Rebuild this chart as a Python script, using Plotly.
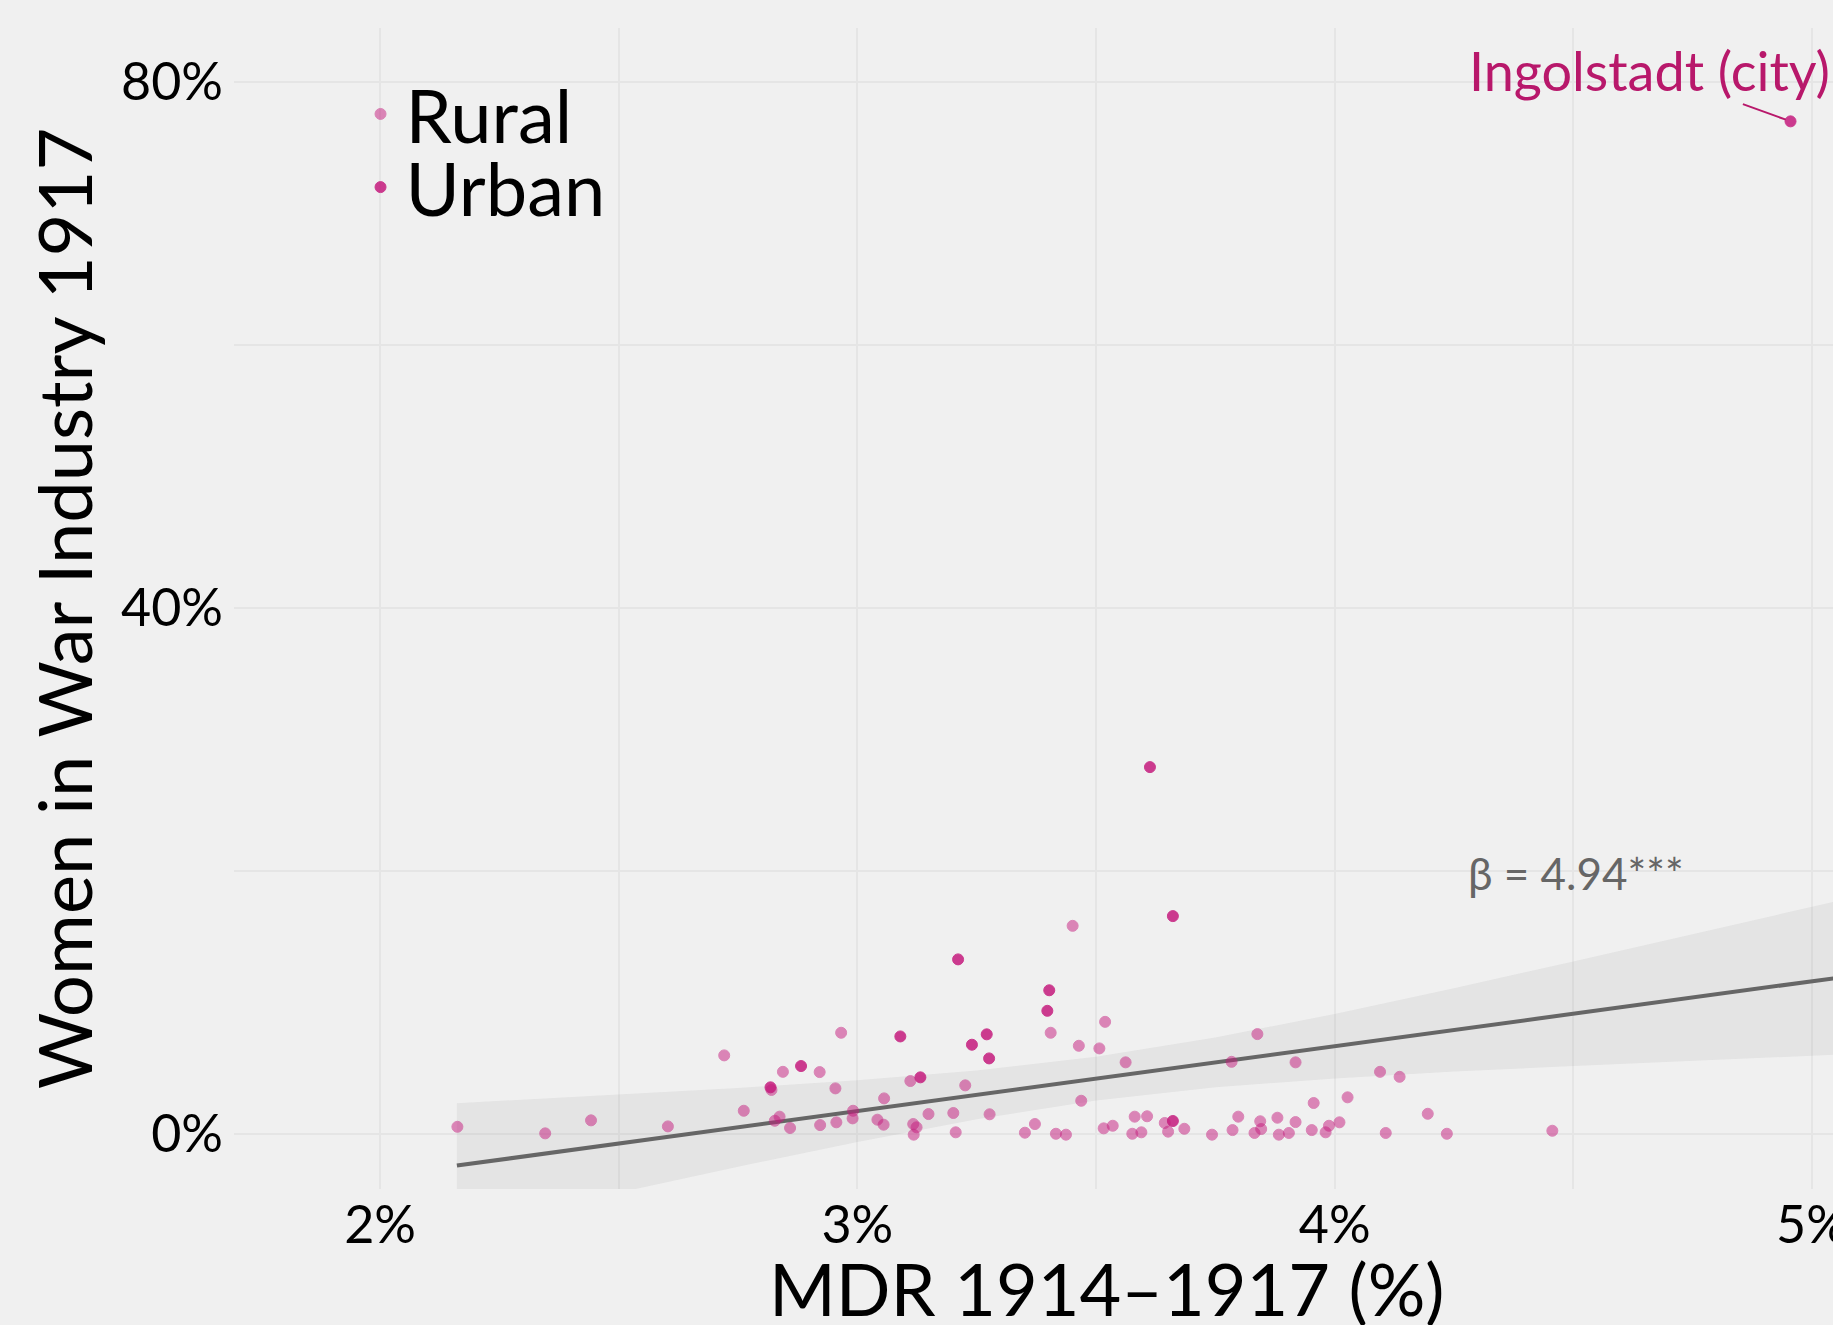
import plotly.graph_objects as go

# ---- data (percent units) ----
rural_x = [2.162, 2.346, 2.442, 2.603, 2.721, 2.762, 2.820, 2.844, 2.921, 2.966,
           2.954, 2.837, 2.827, 2.859, 2.922, 2.956, 2.990, 2.991, 3.042, 3.055,
           3.056, 3.111, 3.117, 3.124, 3.118, 3.149, 3.201, 3.206, 3.226, 3.277,
           3.351, 3.372, 3.405, 3.464, 3.519, 3.507, 3.562, 3.469, 3.416, 3.437,
           3.516, 3.535, 3.581, 3.607, 3.576, 3.595, 3.644, 3.651, 3.685, 3.743,
           3.786, 3.798, 3.784, 3.838, 3.844, 3.846, 3.832, 3.880, 3.883, 3.904,
           3.918, 3.918, 3.956, 3.952, 3.981, 3.988, 4.010, 4.027, 4.095, 4.136,
           4.107, 4.195, 4.235, 4.456, 3.451]
rural_y = [0.55, 0.05, 1.04, 0.58, 5.98, 1.77, 3.35, 4.73, 4.71, 7.70,
           3.47, 1.32, 1.01, 0.46, 0.68, 0.89, 1.19, 1.77, 1.09, 0.71,
           2.71, 4.03, 0.76, 0.51, -0.05, 1.52, 1.60, 0.13, 3.70, 1.50,
           0.10, 0.76, 7.70, 6.71, 8.53, 6.51, 5.45, 2.53, 0.02, -0.05,
           0.43, 0.63, 1.32, 1.35, 0.02, 0.13, 0.84, 0.18, 0.40, -0.05,
           0.30, 1.32, 5.49, 7.60, 0.97, 0.38, 0.08, 1.24, -0.05, 0.08,
           0.91, 5.45, 2.36, 0.30, 0.13, 0.63, 0.89, 2.79, 4.73, 4.35,
           0.08, 1.54, 0.02, 0.25, 15.83]

urban_x = [2.818, 2.882, 3.090, 3.132, 3.211, 3.240, 3.271, 3.276, 3.398, 3.402,
           3.613, 3.661, 3.661, 4.955]
urban_y = [3.55, 5.17, 7.42, 4.31, 13.28, 6.79, 7.58, 5.75, 9.37, 10.93,
           27.9, 16.57, 0.99, 77.0]

# linear fit line and its confidence band
fit_x = [2.161, 5.1]
fit_y = [-2.40, 12.11]
band_x = [2.161, 2.5, 2.75, 3.0, 3.25, 3.5, 3.75, 4.0, 4.25, 4.5, 4.75, 5.1]
band_lo = [-7.14, -4.44, -2.48, -0.61, 1.13, 2.55, 3.56, 4.23, 4.75, 5.18, 5.59, 6.11]
band_hi = [2.34, 2.98, 3.50, 4.09, 4.83, 5.87, 7.34, 9.13, 11.09, 13.12, 15.19, 18.11]

x_ticks = [2, 3, 4, 5]
x_tick_labels = ["2%", "3%", "4%", "5%"]
y_ticks = [0, 40, 80]
y_tick_labels = ["0%", "40%", "80%"]

label_city = "Ingolstadt (city)"
label_pos = (4.659, 80.9)
beta_text = "β = 4.94***"
beta_pos = (4.505, 19.85)

FONT = "Lato, 'Open Sans', sans-serif"
BG = "#f0f0f0"
GRID = "#e5e5e5"
MAG = "#c51b7d"

fig = go.Figure()

fig.add_trace(go.Scatter(x=band_x, y=band_lo, mode="lines", line=dict(width=0),
                         showlegend=False, hoverinfo="skip"))
fig.add_trace(go.Scatter(x=band_x, y=band_hi, mode="lines", line=dict(width=0),
                         fill="tonexty", fillcolor="rgba(150,150,150,0.13)",
                         showlegend=False, hoverinfo="skip"))
fig.add_trace(go.Scatter(x=fit_x, y=fit_y, mode="lines",
                         line=dict(color="#666666", width=4),
                         showlegend=False, hoverinfo="skip"))

fig.add_trace(go.Scatter(x=rural_x, y=rural_y, mode="markers", name="Rural",
                         marker=dict(color=MAG, size=11, opacity=0.5,
                                     line=dict(width=1, color=MAG)),
                         legend="legend"))
fig.add_trace(go.Scatter(x=urban_x, y=urban_y, mode="markers", name="Urban",
                         marker=dict(color=MAG, size=11, opacity=0.85,
                                     line=dict(width=1, color=MAG)),
                         legend="legend2"))

fig.add_annotation(x=urban_x[-1], y=urban_y[-1], ax=label_pos[0], ay=label_pos[1],
                   axref="x", ayref="y", text=label_city, showarrow=True,
                   arrowhead=0, arrowwidth=2, arrowcolor="#b8186b", standoff=5,
                   font=dict(family=FONT, size=54, color="#b8186b"))
fig.add_annotation(x=beta_pos[0], y=beta_pos[1], text=beta_text, showarrow=False,
                   font=dict(family=FONT, size=44, color="#666666"))
fig.add_annotation(xref="paper", yref="paper", x=0.546, y=-0.085,
                   text="MDR 1914–1917 (%)", showarrow=False,
                   xanchor="center", yanchor="middle",
                   font=dict(family=FONT, size=72, color="black"))

fig.update_layout(
    width=1833, height=1325, autosize=False,
    paper_bgcolor=BG, plot_bgcolor=BG,
    margin=dict(l=234, r=0, t=28, b=136, autoexpand=False),
    font=dict(family=FONT, color="black"),
    xaxis=dict(range=[1.694, 5.044], tickvals=x_ticks, ticktext=x_tick_labels,
               showgrid=True, gridcolor=GRID, gridwidth=2, zeroline=False,
               showline=False, ticks="", ticklabelstandoff=1,
               ticklabeloverflow="allow", automargin=False,
               tickfont=dict(family=FONT, size=52, color="black"),
               minor=dict(dtick=0.5, tick0=0, showgrid=True, gridcolor=GRID, gridwidth=2)),
    yaxis=dict(range=[-4.18, 84.1], tickvals=y_ticks, ticktext=y_tick_labels,
               showgrid=True, gridcolor=GRID, gridwidth=2, zeroline=False,
               showline=False, ticks="", ticklabelstandoff=10,
               tickfont=dict(family=FONT, size=52, color="black"),
               title=dict(text="Women in War Industry 1917", standoff=4,
                          font=dict(family=FONT, size=74, color="black")),
               minor=dict(dtick=20, tick0=0, showgrid=True, gridcolor=GRID, gridwidth=2)),
    legend=dict(x=0.076, y=0.973, xanchor="left", yanchor="top",
                bgcolor="rgba(0,0,0,0)", font=dict(family=FONT, size=74),
                itemsizing="trace", itemwidth=40),
    legend2=dict(x=0.076, y=0.910, xanchor="left", yanchor="top",
                 bgcolor="rgba(0,0,0,0)", font=dict(family=FONT, size=74),
                 itemsizing="trace", itemwidth=40),
)

fig.write_html("out.html", config={"displayModeBar": False},
               post_script="document.body.style.margin='0';")
